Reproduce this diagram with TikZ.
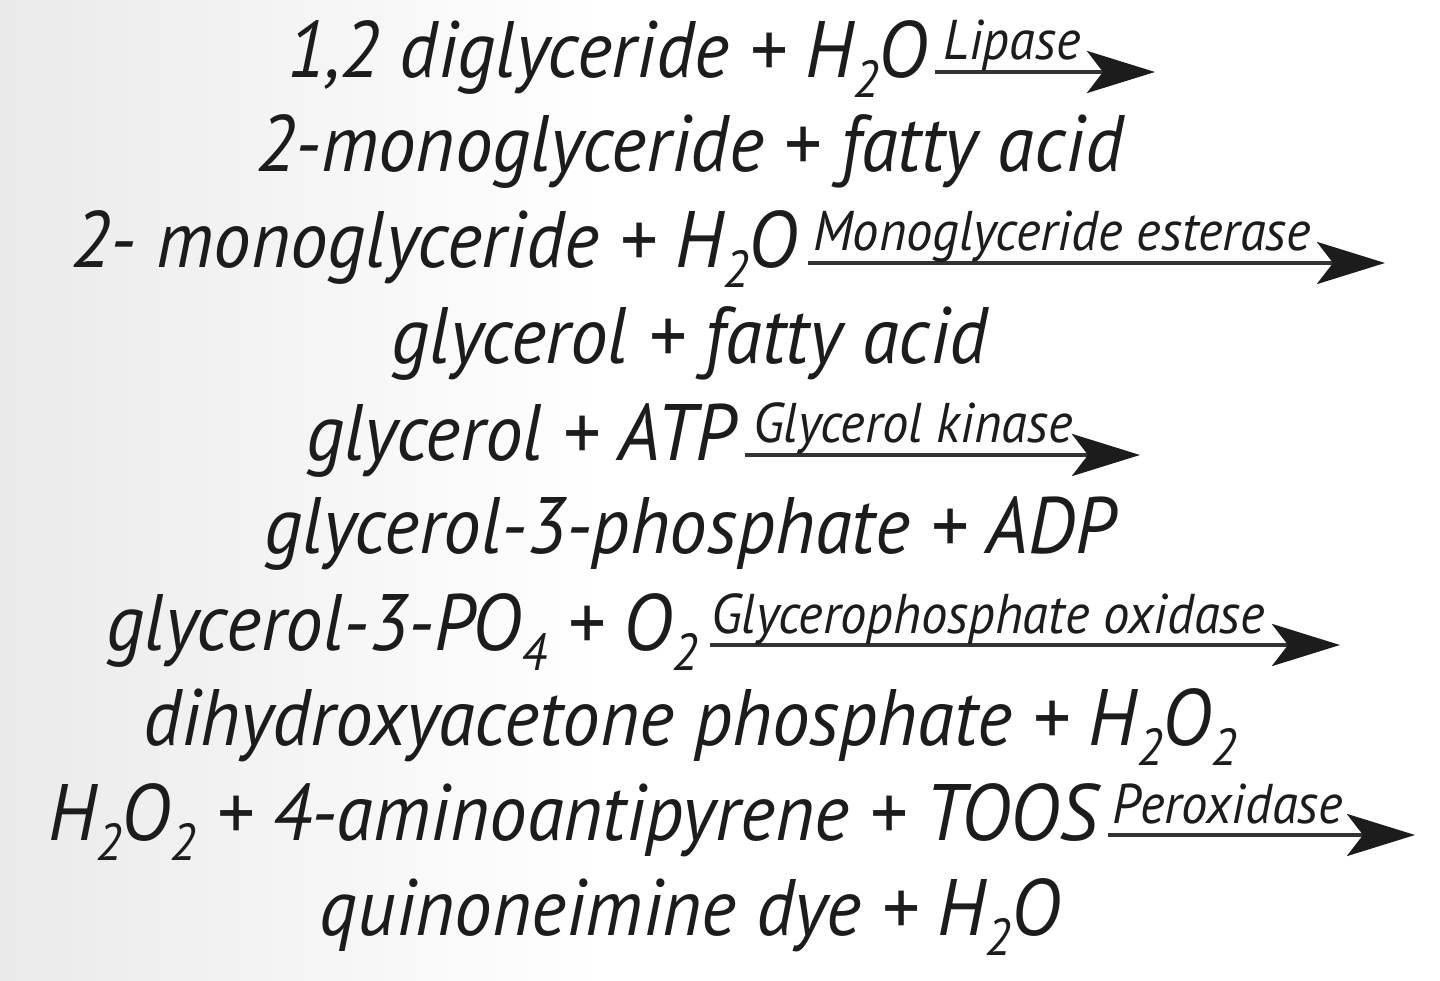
\documentclass[tikz,border=0pt]{standalone}
\usepackage{fontspec}
\usepackage{graphicx}
\setmainfont{PT Sans}[FakeStretch=0.94]
\usetikzlibrary{arrows.meta}
\definecolor{ink}{HTML}{1C1C1C}
\definecolor{shaft}{HTML}{333333}
\definecolor{bgl}{HTML}{EAEAEA}
\newcommand\chsub[1]{\raisebox{-0.25em}{\scalebox{0.65}{#1}}}
\tikzset{
  eq/.style={font=\fontsize{80}{90}\selectfont\itshape, text=ink, inner sep=0pt, anchor=base east},
  eqc/.style={font=\fontsize{80}{90}\selectfont\itshape, text=ink, inner sep=0pt, anchor=base},
  enz/.style={font=\fontsize{56}{60}\selectfont\itshape, text=ink, inner sep=0pt, anchor=base west},
  rx/.style={draw=shaft, line width=4.5pt, -{Stealth[length=68pt,width=42pt,inset=16pt,fill=ink,color=ink]}}
}
\begin{document}
\begin{tikzpicture}[x=1pt,y=-1pt]
\useasboundingbox (0,0) rectangle (1440,981);
\shade[left color=bgl, right color=white] (0,0) rectangle (600,981);
\fill[white] (600,0) rectangle (1440,981);

% line 1
\node[eq] (r1) at (928,78) {1,2 diglyceride + H\chsub{2}O};
\coordinate (a1s) at (935,72);
\coordinate (a1e) at (1155,72);
\draw[rx] (a1s) -- (a1e);
\node[enz] (e1) at (943,60) {Lipase};
\node[eqc] (p1) at (690,172) {2-monoglyceride + fatty acid};

% line 3
\node[eq] (r2) at (798,268) {2- monoglyceride + H\chsub{2}O};
\coordinate (a2s) at (808,263);
\coordinate (a2e) at (1385,263);
\draw[rx] (a2s) -- (a2e);
\node[enz] (e2) at (813,251) {Monoglyceride esterase};
\node[eqc] (p2) at (690,363) {glycerol + fatty acid};

% line 5
\node[eq] (r3) at (736,460) {glycerol + ATP};
\coordinate (a3s) at (745,455);
\coordinate (a3e) at (1140,455);
\draw[rx] (a3s) -- (a3e);
\node[enz] (e3) at (753,442) {Glycerol kinase};
\node[eqc] (p3) at (690,553) {glycerol-3-phosphate + ADP};

% line 7
\node[eq] (r4) at (698,650) {glycerol-3-PO\chsub{4} + O\chsub{2}};
\coordinate (a4s) at (710,645);
\coordinate (a4e) at (1340,645);
\draw[rx] (a4s) -- (a4e);
\node[enz] (e4) at (711,633) {Glycerophosphate oxidase};
\node[eqc] (p4) at (690,745) {dihydroxyacetone phosphate + H\chsub{2}O\chsub{2}};

% line 9
\node[eq] (r5) at (1098,840) {H\chsub{2}O\chsub{2} + 4-aminoantipyrene + TOOS};
\coordinate (a5s) at (1108,835);
\coordinate (a5e) at (1415,835);
\draw[rx] (a5s) -- (a5e);
\node[enz] (e5) at (1112,823) {Peroxidase};
\node[eqc] (p5) at (690,935) {quinoneimine dye + H\chsub{2}O};
\end{tikzpicture}
\end{document}
